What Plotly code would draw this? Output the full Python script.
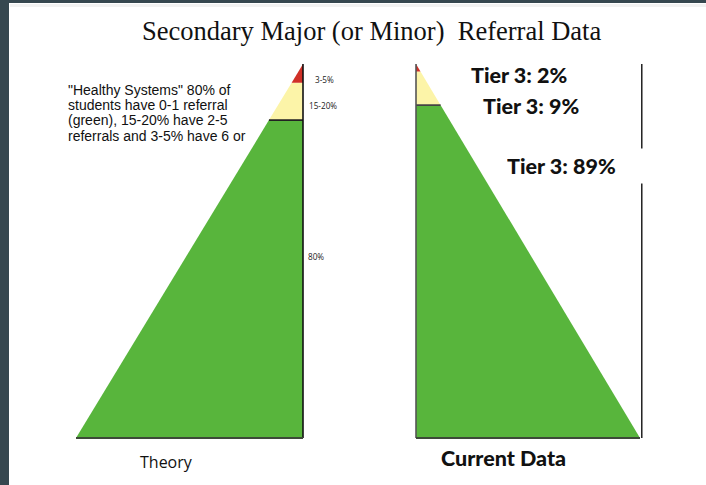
import plotly.graph_objects as go

W, H = 706, 485

# ---- data ----
tiers = ["Tier 1", "Tier 2", "Tier 3"]
theory_share = [85, 10, 5]          # band heights as drawn (bottom -> top)
theory_labels = ["80%", "15-20%", "3-5%"]
current_share = [89, 9, 2]
current_labels = ["Tier 3: 89%", "Tier 3: 9%", "Tier 3: 2%"]
tier_colors = ["#58b53c", "#fcf4a8", "#d03027"]

title_text = "Secondary Major (or Minor)  Referral Data"
note_lines = ['"Healthy Systems" 80% of', "students have 0-1 referral",
              "(green), 15-20% have 2-5", "referrals and 3-5% have 6 or"]


def px(x):
    return x / W


def py(y):
    return 1 - y / H


PADX, PADY = 0.02, 2.0


def domain(x0, x1, y0, y1):
    wx = x1 - x0
    hy = y1 - y0
    dx = [px(x0 - PADX * wx), px(x1 + PADX * wx)]
    dy = [py(y1 + PADY / 100 * hy), py(y0 - PADY / 100 * hy)]
    return dx, dy


fig = go.Figure()


def add_pyramid(share, xa, ya, right_angle_on_right):
    def edges(y):
        if right_angle_on_right:
            return y / 100.0, 1.0
        return 0.0, 1.0 - y / 100.0

    cum = 0
    bounds = []
    for s, c, name in zip(share, tier_colors, tiers):
        y0, y1 = cum, cum + s
        a0, b0 = edges(y0)
        a1, b1 = edges(y1)
        fig.add_trace(go.Scatter(x=[a0, b0, b1, a1, a0], y=[y0, y0, y1, y1, y0],
                                 fill="toself", fillcolor=c, mode="lines",
                                 line=dict(width=0), name=name, hoverinfo="name",
                                 xaxis=xa, yaxis=ya, showlegend=False))
        bounds.append(y1)
        cum = y1
    # separator between tier 1 and tier 2
    yb = bounds[0]
    a, b = edges(yb)
    fig.add_trace(go.Scatter(x=[a, b], y=[yb, yb], mode="lines",
                             line=dict(color="#222" if right_angle_on_right else "#444", width=1.6),
                             xaxis=xa, yaxis=ya, showlegend=False, hoverinfo="skip"))
    # vertical side
    vx = 1.0 if right_angle_on_right else 0.0
    fig.add_trace(go.Scatter(x=[vx, vx], y=[0, 100], mode="lines",
                             line=dict(color="#111" if right_angle_on_right else "#555", width=1.6),
                             xaxis=xa, yaxis=ya, showlegend=False, hoverinfo="skip"))
    # base
    fig.add_trace(go.Scatter(x=[0, 1], y=[0, 0], mode="lines",
                             line=dict(color="#3d4a38", width=2.2),
                             xaxis=xa, yaxis=ya, showlegend=False, hoverinfo="skip"))


add_pyramid(theory_share, "x", "y", True)
add_pyramid(current_share, "x2", "y2", False)

# frame line to the right of the current-data pyramid
fig.add_trace(go.Scatter(x=[1.008, 1.008], y=[0, 100], mode="lines",
                         line=dict(color="#111", width=1.4),
                         xaxis="x2", yaxis="y2", showlegend=False, hoverinfo="skip"))

dxl, dyl = domain(76, 303, 64, 438)
dxr, dyr = domain(416, 640, 64, 438)
ax = dict(visible=False, range=[-PADX, 1 + PADX], fixedrange=True)
ay = dict(visible=False, range=[-PADY, 100 + PADY], fixedrange=True)
fig.update_layout(
    xaxis=dict(ax, domain=dxl), yaxis=dict(ay, domain=dyl),
    xaxis2=dict(ax, domain=dxr, anchor="y2"), yaxis2=dict(ay, domain=dyr, anchor="x2"),
)

ann = []


def A(text, x, y, font, xanchor="left", **kw):
    d = dict(x=px(x), y=py(y), xref="paper", yref="paper", text=text, showarrow=False,
             xanchor=xanchor, yanchor="middle", font=font)
    d.update(kw)
    ann.append(d)


A(title_text, 371, 31, dict(family="Liberation Serif", size=26.5, color="#111"), xanchor="center")
note_font = dict(family="Liberation Sans", size=14, color="#111")
for i, line in enumerate(note_lines):
    A(line, 67, 90 + i * 15.2, note_font, borderpad=0)

small = dict(family="Open Sans", size=8.2, color="#222")
A(theory_labels[2], 313, 80, small)
A(theory_labels[1], 307, 105, small)
A(theory_labels[0], 306, 256, small)

tier_font = dict(family="Lato", size=21.5, color="#111", weight=900)
A(current_labels[2], 469, 75, tier_font)
A(current_labels[1], 481, 106, tier_font)
A(current_labels[0], 506, 166, tier_font, align="left", width=150, height=34,
  bgcolor="white", borderpad=0)

A("Theory", 166, 462, dict(family="Open Sans", size=16, color="#111"), xanchor="center")
A("Current Data", 503, 458, dict(family="Lato", size=21.5, color="#111", weight=900),
  xanchor="center")

shapes = [
    dict(type="rect", xref="paper", yref="paper", x0=0, x1=px(9), y0=0, y1=1,
         fillcolor="#36474f", line=dict(width=0), layer="above"),
    dict(type="rect", xref="paper", yref="paper", x0=0, x1=1, y0=py(3), y1=1,
         fillcolor="#36474f", line=dict(width=0), layer="above"),
    dict(type="rect", xref="paper", yref="paper", x0=px(10), x1=1, y0=py(7), y1=py(4),
         fillcolor="#f2f2f2", line=dict(width=0), layer="below"),
]

fig.update_layout(width=W, height=H, margin=dict(l=0, r=0, t=0, b=0),
                  paper_bgcolor="white", plot_bgcolor="rgba(0,0,0,0)",
                  annotations=ann, shapes=shapes, showlegend=False)

fig.write_html("out.html", config={"displayModeBar": False},
               post_script="document.body.style.margin='0';document.body.style.overflow='hidden';")
